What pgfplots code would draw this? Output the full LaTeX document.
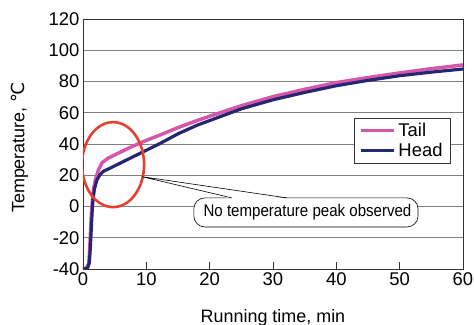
\documentclass[border=0pt]{standalone}
\usepackage{pgfplots}
\pgfplotsset{compat=1.18}
\usepackage{fontspec}
\setmainfont{Liberation Sans}
\newfontfamily\narrowfont[FakeStretch=0.89]{Liberation Sans}
\newfontfamily\dejavu{DejaVu Sans}
\definecolor{tailc}{RGB}{214,86,170}
\definecolor{headc}{RGB}{38,38,115}
\definecolor{redc}{RGB}{232,64,46}
\begin{document}
\begin{tikzpicture}
\begin{axis}[
  at={(0,0)}, anchor=south west,
  scale only axis, width=380bp, height=250bp,
  xmin=0, xmax=60, ymin=-40, ymax=120,
  xtick={0,10,...,60}, ytick={-40,-20,...,120},
  ymajorgrids, grid style={black!50, line width=0.8pt},
  major tick length=7bp, tick align=inside, xtick pos=bottom, ytick pos=left,
  ytick style={draw=none}, xtick style={black!80, line width=0.6pt},
  axis line style={black!80, line width=0.8pt},
  tick label style={font=\fontsize{18.5}{20}\selectfont},
  /pgf/number format/assume math mode=true,
  xlabel={Running time, min},
  ylabel={Temperature, {\dejavu ℃}},
  label style={font=\fontsize{18}{20}\selectfont},
  xlabel style={at={(axis description cs:0.5,-0.16)}, anchor=north, inner sep=0pt},
  ylabel style={at={(axis description cs:-0.167,0.486)}, anchor=center, inner sep=0pt},
  legend style={at={(axis description cs:0.968,0.604)}, anchor=north east,
    draw=black!80, line width=0.6pt, font=\fontsize{18.5}{20}\selectfont,
    inner xsep=5bp, inner ysep=4bp, row sep=3bp,
    nodes={inner xsep=3bp, inner ysep=1bp}},
  legend cell align=left,
  legend image code/.code={\draw[#1] (0bp,0bp) -- (33bp,0bp);},
]
\addplot[tailc, line width=3.5pt, line join=round] coordinates {
(0,-40) (0.5,-39.5) (0.9,-37) (1.05,-28) (1.2,-15) (1.35,-3) (1.5,5) (1.7,12) (2.0,18)
(2.5,24) (3,28) (4,31) (5,33) (6,35) (7,37) (8,38.8) (9,40.6) (10,42.3)
(12,45.5) (15,50.5) (18,55) (20,57.8) (25,64.5) (30,70.3) (35,75) (40,79.3)
(45,82.5) (50,85.5) (55,88.2) (60,90.6)};
\addlegendentry{Tail}
\addplot[headc, line width=3.2pt, line join=round] coordinates {
(0,-40) (0.7,-39.5) (1.0,-36) (1.15,-27) (1.3,-15) (1.45,-3) (1.6,5) (1.8,11) (2.2,17)
(2.7,20.5) (3.2,22.5) (4,24) (5,26) (6,28) (7,30) (8,32) (9,34) (10,36)
(12,40) (15,46.5) (18,52) (20,55) (25,62.5) (30,68.3) (35,73) (40,77.3)
(45,80.7) (50,83.7) (55,86) (60,88)};
\addlegendentry{Head}
% red ellipse
\draw[redc, line width=2.6pt] (axis cs:4.75,26.8) ellipse [x radius=31bp, y radius=42.5bp];
% callout
\draw[black, line width=0.6pt, fill=white, rounded corners=11bp]
  (axis cs:17.5,-13.1) rectangle (axis cs:52.9,5.5);
\fill[white] (axis cs:23.5,4.9) -- (axis cs:9.3,19.1) -- (axis cs:32.2,4.9) -- cycle;
\draw[black, line width=0.6pt] (axis cs:23.5,5.5) -- (axis cs:9.3,19.1) -- (axis cs:32.2,5.5);
\node[font=\narrowfont\fontsize{17}{19}\selectfont, inner sep=0pt] at (axis cs:35.45,-3.7) {No temperature peak observed};
\end{axis}
\pgfresetboundingbox
\path[use as bounding box] (-83bp,-56bp) rectangle (391bp,269bp);
\end{tikzpicture}
\end{document}
